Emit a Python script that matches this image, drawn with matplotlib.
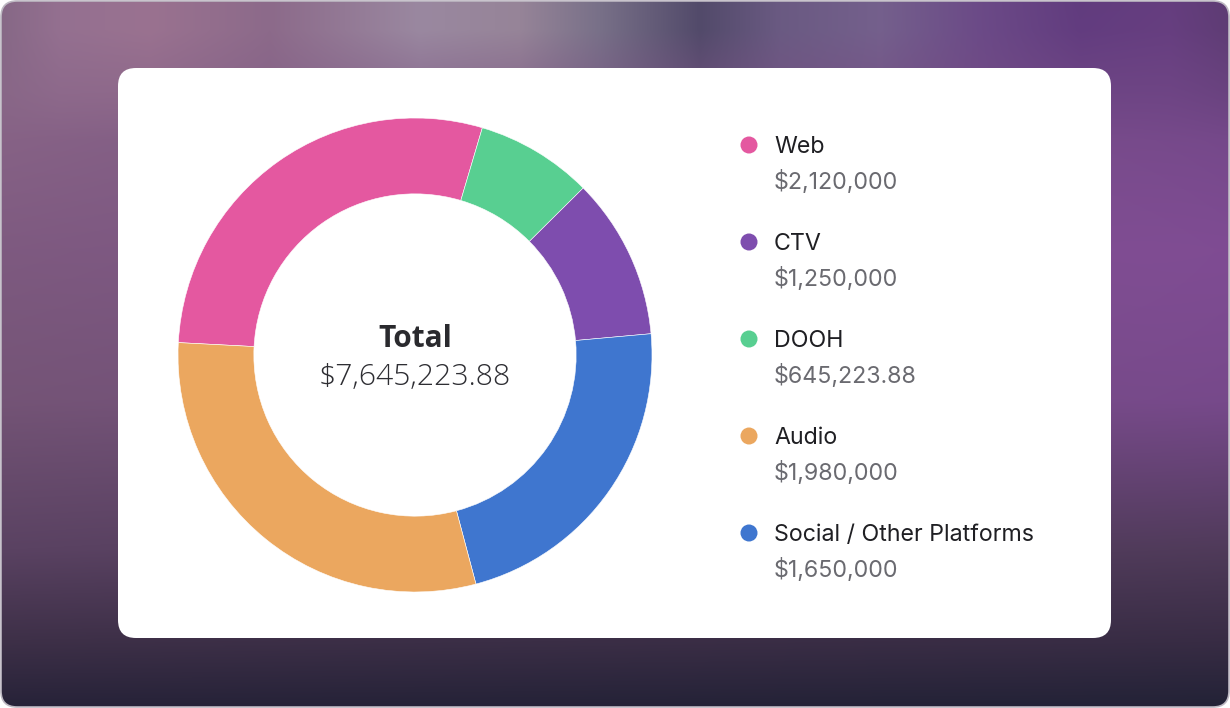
import numpy as np
import matplotlib
matplotlib.use("Agg")
import matplotlib.pyplot as plt
from matplotlib import font_manager as fm
from matplotlib.patches import FancyBboxPatch, Circle
from matplotlib.colors import to_rgb

# ---------------- data ----------------
labels = ["Web", "CTV", "DOOH", "Audio", "Social / Other Platforms"]
amounts = [2120000, 1250000, 645223.88, 1980000, 1650000]
colors = ["#E458A0", "#7E4DAE", "#58CF91", "#EBA75F", "#3F76CF"]

# ring segments as drawn (clockwise from the left), shares in percent read from the arcs
ring_labels = ["Web", "DOOH", "CTV", "Social / Other Platforms", "Audio"]
ring_share = [28.75, 7.97, 11.01, 22.29, 29.97]

center_title = "Total"


def money(v):
    s = f"${v:,.2f}"
    return s[:-3] if s.endswith(".00") else s


def _w(f):
    w = f.weight
    if isinstance(w, (int, float)):
        return int(w)
    return int(fm.weight_dict.get(w, 400))


def pick_font(families, test, target):
    for fam in families:
        c = [f for f in fm.fontManager.ttflist
             if f.name == fam and f.style == "normal" and test(_w(f))
             and str(f.stretch) in ("normal", "500")
             and "condensed" not in f.fname.lower() and "display" not in f.fname.lower()]
        if c:
            c.sort(key=lambda f: abs(_w(f) - target))
            return c[0].fname
    return None


fams = ["Noto Sans", "Open Sans", "Lato", "Roboto"]
bold_path = pick_font(fams, lambda w: w >= 600, 700)
light_path = pick_font(fams, lambda w: 200 <= w <= 350, 300)


def fp(path, size, fallback_weight):
    if path:
        return fm.FontProperties(fname=path, size=size)
    return fm.FontProperties(family="Noto Sans", weight=fallback_weight, size=size)


total = sum(amounts)

W, H = 1230, 708
fig = plt.figure(figsize=(W / 100, H / 100), dpi=100)
fig.patch.set_facecolor("white")

# ---------------- background gradient ----------------
bg = fig.add_axes([0, 0, 1, 1])
bg.set_xlim(0, W)
bg.set_ylim(H, 0)
bg.axis("off")

tx = [0, 60, 150, 270, 420, 520, 600, 700, 780, 880, 980, 1080, 1170, 1230]
tc = ["#866886", "#947090", "#9a7290", "#8c6a8a", "#9a88a0", "#968498", "#787088",
      "#524a6a", "#6a5a82", "#74608c", "#6a4a86", "#5e3a7c", "#623c7c", "#5a3a70"]
ly = [0, 90, 250, 400, 550, 640, 708]
lc = ["#8a6688", "#8a6688", "#7e5a80", "#745476", "#5a4262", "#3e3048", "#262238"]
rc = ["#6a4480", "#6a4480", "#7c4a90", "#744888", "#4e3a58", "#382c44", "#222236"]

xs = np.arange(W) + 0.5
ys = np.arange(H) + 0.5
T = np.stack([np.interp(xs, tx, [to_rgb(c)[k] for c in tc]) for k in range(3)], -1)
L = np.stack([np.interp(ys, ly, [to_rgb(c)[k] for c in lc]) for k in range(3)], -1)
R = np.stack([np.interp(ys, ly, [to_rgb(c)[k] for c in rc]) for k in range(3)], -1)
fx = (xs / W)[None, :, None]
body = L[:, None, :] * (1 - fx) + R[:, None, :] * fx
w = np.clip((ys - 30) / 110, 0, 1)[:, None, None]
img = T[None, :, :] * (1 - w) + body * w
gx, gy = 1150, 230
d2 = ((xs[None, :] - gx) ** 2 + (ys[:, None] - gy) ** 2)
glow = np.exp(-d2 / (2 * 140 ** 2))[:, :, None]
img = img * (1 - 0.35 * glow) + np.array(to_rgb("#86509a")) * 0.35 * glow

im = bg.imshow(img, extent=(0, W, H, 0), interpolation="bilinear", zorder=0)
frame = FancyBboxPatch((1, 1), W - 2, H - 2, boxstyle="round,pad=0,rounding_size=16",
                       facecolor="none", edgecolor="#bdb8c2", linewidth=1.2, zorder=2)
bg.add_patch(frame)
im.set_clip_path(frame)

card = FancyBboxPatch((118, 68), 993, 570, boxstyle="round,pad=0,rounding_size=18",
                      facecolor="white", edgecolor="none", zorder=3)
bg.add_patch(card)

# ---------------- donut ----------------
cx, cy, r = 415, 355, 237
ax = fig.add_axes([(cx - r) / W, (H - cy - r) / H, 2 * r / W, 2 * r / H])
ax.set_facecolor("none")
color_of = dict(zip(labels, colors))
ax.pie(ring_share, colors=[color_of[l] for l in ring_labels], startangle=177,
       counterclock=False, radius=1.0,
       wedgeprops=dict(width=0.32, edgecolor="white", linewidth=0.4))
ax.set_xlim(-1, 1)
ax.set_ylim(-1, 1)
ax.axis("off")

fig.text(cx / W, 1 - 339 / H, center_title, ha="center", va="center",
         fontproperties=fp(bold_path, 21.5, "bold"), color="#2a2a2e")
fig.text(cx / W, 1 - 377 / H, money(total), ha="center", va="center",
         fontproperties=fp(light_path, 21.7, "light"), color="#2e2e33")

# ---------------- legend ----------------
row0, step = 145, 97
for i, (lab, amt, col) in enumerate(zip(labels, amounts, colors)):
    y = row0 + i * step
    bg.add_patch(Circle((749, y), 8.5, facecolor=col, edgecolor="none", zorder=4))
    bg.text(774, y + 2, lab, ha="left", va="center", fontsize=16.7, color="#1f1f23",
            family=["Inter", "DejaVu Sans"], zorder=5)
    bg.text(774, y + 37, money(amt), ha="left", va="center", fontsize=16.7, color="#6a6a70",
            family=["Inter", "DejaVu Sans"], zorder=5)

fig.savefig("out.png", dpi=100, facecolor="white")
